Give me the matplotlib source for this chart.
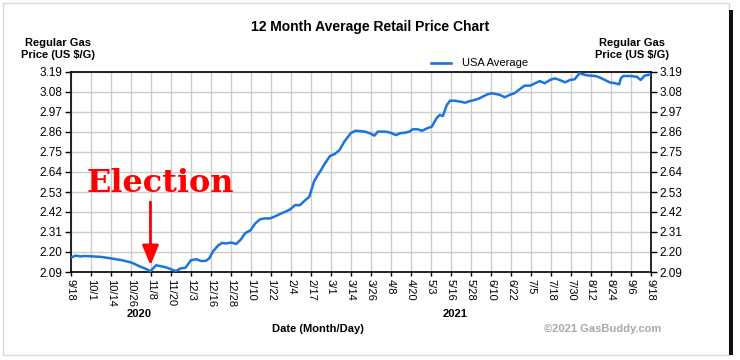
import matplotlib
matplotlib.use("Agg")
import matplotlib.pyplot as plt
from matplotlib.patches import Rectangle
import numpy as np

plt.rcParams['font.family'] = ['Liberation Sans', 'DejaVu Sans']

# Data: days since 2020-09-18, price (US $/G)
days = [0, 3, 6, 9, 13, 19, 25, 32, 38, 44, 47, 50, 53.5, 57, 60, 63, 66, 69, 72, 75.5,
        79, 82, 85, 87, 89.5, 92.5, 95, 97.5, 101, 104, 107, 109.5, 113, 116, 119, 122,
        125, 128, 131.5, 135, 138, 141, 144, 147, 150, 153, 157, 160, 163, 166, 169, 172,
        176, 179, 182, 185, 188, 191, 193, 198, 201, 204.5, 207, 210, 213, 215, 218, 221,
        224, 227, 230, 232, 234, 236.5, 238.5, 241.5, 245, 248, 251, 254, 257, 262, 265,
        270, 273, 276, 279, 282.5, 285.5, 289, 292, 295, 298, 301.5, 304.5, 307.5, 311,
        314, 317, 320, 323.5, 326.5, 330, 333, 336, 339, 342.5, 345, 346, 347.5, 352,
        356, 358.5, 361, 365]
prices = [2.170, 2.180, 2.176, 2.178, 2.176, 2.173, 2.165, 2.155, 2.142, 2.118, 2.108,
          2.094, 2.127, 2.121, 2.115, 2.105, 2.095, 2.110, 2.113, 2.155, 2.160, 2.150,
          2.152, 2.165, 2.205, 2.235, 2.250, 2.247, 2.252, 2.244, 2.270, 2.303, 2.320,
          2.358, 2.380, 2.385, 2.384, 2.394, 2.409, 2.422, 2.435, 2.458, 2.457, 2.482,
          2.504, 2.590, 2.646, 2.690, 2.728, 2.739, 2.761, 2.807, 2.853, 2.867, 2.865,
          2.862, 2.853, 2.840, 2.862, 2.862, 2.856, 2.843, 2.853, 2.856, 2.862, 2.875,
          2.875, 2.867, 2.880, 2.889, 2.935, 2.954, 2.948, 3.008, 3.032, 3.032, 3.027,
          3.021, 3.030, 3.036, 3.045, 3.067, 3.073, 3.064, 3.051, 3.064, 3.073, 3.096,
          3.115, 3.115, 3.128, 3.140, 3.128, 3.146, 3.155, 3.146, 3.133, 3.146, 3.150,
          3.183, 3.174, 3.170, 3.168, 3.159, 3.146, 3.133, 3.128, 3.122, 3.155, 3.168,
          3.168, 3.164, 3.146, 3.170, 3.177]

x_tick_labels = ['9/18', '10/1', '10/14', '10/26', '11/8', '11/20', '12/3', '12/16',
                 '12/28', '1/10', '1/22', '2/4', '2/17', '3/1', '3/14', '3/26', '4/8',
                 '4/20', '5/3', '5/16', '5/28', '6/10', '6/22', '7/5', '7/18', '7/30',
                 '8/12', '8/24', '9/6', '9/18']
y_ticks = [2.09, 2.20, 2.31, 2.42, 2.53, 2.64, 2.75, 2.86, 2.97, 3.08, 3.19]
election_day = 50

fig = plt.figure(figsize=(7.4, 3.6), dpi=100)
fig.patch.set_facecolor('white')

# frame and shadow
fig.add_artist(Rectangle((3/740, 5/360), 726/740, 352/360, transform=fig.transFigure,
                         facecolor='none', edgecolor='#d8d8d8', linewidth=1))
fig.add_artist(Rectangle((729/740, 5/360), 4/740, 345/360, transform=fig.transFigure,
                         facecolor='#111111', edgecolor='none'))

ax = fig.add_axes([71/740, 1 - 272/360, 580/740, 200/360])
ax.plot(days, prices, color='#1c74dc', linewidth=1.8, label='USA Average', zorder=3)

ax.set_xlim(0, 365)
ax.set_ylim(2.09, 3.19)
xt = np.linspace(0, 365, len(x_tick_labels))
ax.set_xticks(xt)
ax.set_xticklabels(x_tick_labels, rotation=270, fontsize=8)
ax.set_yticks(y_ticks)
ax.set_yticklabels(['%.2f' % v for v in y_ticks], fontsize=8.5)
ax.tick_params(axis='y', which='both', left=True, right=True, labelleft=True,
               labelright=True, length=4, width=1, pad=2)
ax.tick_params(axis='x', length=3, width=1, pad=2)
ax.grid(True, color='#cccccc', linewidth=1)
ax.set_axisbelow(True)
for s in ax.spines.values():
    s.set_color('black')
    s.set_linewidth(1.2)

# Election annotation
ax.annotate('', xy=(election_day, 2.112), xytext=(election_day, 2.49),
            arrowprops=dict(arrowstyle='-|>,head_length=1.2,head_width=0.5',
                        color='#ff0000', lw=2), zorder=4)
ax.text(election_day + 6, 2.575, 'Election', color='#ff0000', fontsize=23,
        fontweight='heavy', family='DejaVu Serif', ha='center', va='center', zorder=4)

# legend
fig.add_artist(plt.Line2D([431/740, 451/740], [1 - 63/360, 1 - 63/360],
                          color='#1c74dc', linewidth=1.9))
fig.text(462/740, 1 - 63/360, 'USA Average', fontsize=8, va='center', ha='left')

# title and labels
fig.text(370/740, 1 - 27/360, '12 Month Average Retail Price Chart', fontsize=10,
         fontweight='bold', ha='center', va='center')
fig.text(58/740, 1 - 49/360, 'Regular Gas\nPrice (US $/G)', fontsize=8,
         fontweight='bold', ha='center', va='center', linespacing=1.15)
fig.text(632/740, 1 - 49/360, 'Regular Gas\nPrice (US $/G)', fontsize=8,
         fontweight='bold', ha='center', va='center', linespacing=1.15)
fig.text(139/740, 1 - 314/360, '2020', fontsize=8, fontweight='bold', ha='center', va='center')
fig.text(455/740, 1 - 314/360, '2021', fontsize=8, fontweight='bold', ha='center', va='center')
fig.text(318/740, 1 - 329/360, 'Date (Month/Day)', fontsize=8, fontweight='bold',
         ha='center', va='center')
fig.text(603/740, 1 - 329/360, '\u00a92021 GasBuddy.com', fontsize=8, fontweight='bold',
         color='#a8a8a8', ha='center', va='center')

fig.savefig('out.png', dpi=100, facecolor='white')
